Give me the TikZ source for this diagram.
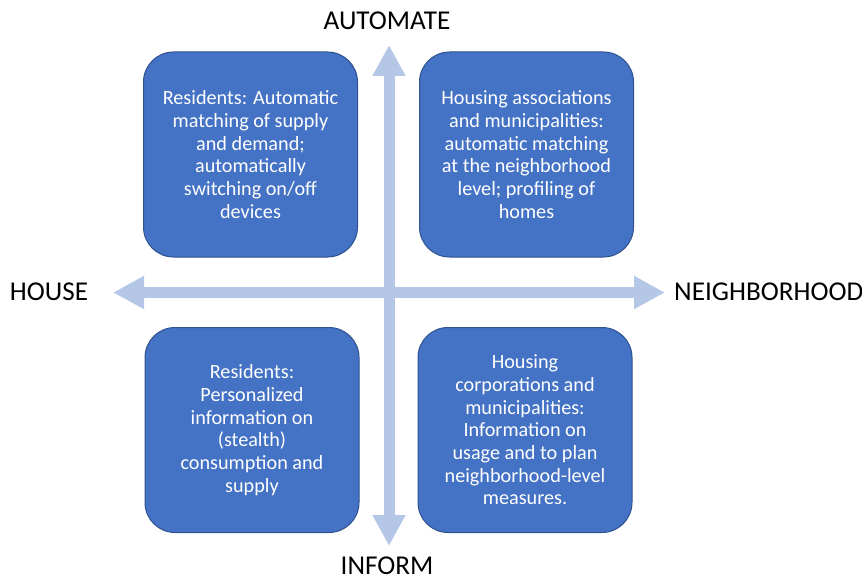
\documentclass[tikz,border=0pt]{standalone}
\usepackage{fontspec}
\setmainfont{Carlito}
\usetikzlibrary{arrows.meta}
\definecolor{boxfill}{HTML}{4472C4}
\definecolor{boxline}{HTML}{2F528F}
\definecolor{axiscol}{HTML}{B4C7E7}
\tikzset{
  quadbox/.style={draw=boxline, line width=1pt, fill=boxfill, rounded corners=30pt,
    minimum width=214pt, minimum height=205pt, text=white, align=center,
    font=\fontsize{20.2pt}{22.7pt}\selectfont, inner sep=0pt},
  axislabel/.style={font=\fontsize{27.2pt}{30pt}\selectfont, text=black, inner sep=0pt},
  axisarrow/.style={draw=axiscol, line width=11pt,
    {Triangle[width=31pt,length=31pt]}-{Triangle[width=31pt,length=31pt]}}
}
\begin{document}
\begin{tikzpicture}[x=1pt,y=-1pt]
\useasboundingbox (0,0) rectangle (862,580);
% axes
\coordinate (hl) at (113,292.5);
\coordinate (hr) at (665,292.5);
\coordinate (vt) at (389,45);
\coordinate (vb) at (389,546);
\draw[axisarrow] (hl) -- (hr);
\draw[axisarrow] (vt) -- (vb);
% boxes
\node[quadbox] (tl) at (250.5,154.5) {Residents: Automatic\\matching of supply\\and demand;\\automatically\\switching on/off\\devices};
\node[quadbox] (tr) at (526.5,154.5) {Housing associations\\and municipalities:\\automatic matching\\at the neighborhood\\level; profiling of\\homes};
\node[quadbox] (bl) at (252,430) {Residents:\\Personalized\\information on\\(stealth)\\consumption and\\supply};
\node[quadbox] (br) at (525,430) {Housing\\corporations and\\municipalities:\\Information on\\usage and to plan\\neighborhood-level\\measures.};
% labels
\node[axislabel, anchor=base] (auto) at (387,30) {AUTOMATE};
\node[axislabel, anchor=base] (inform) at (387,574.5) {INFORM};
\node[axislabel, anchor=base] (house) at (49,300) {HOUSE};
\node[axislabel, anchor=base west] (neigh) at (674,300) {NEIGHBORHOOD};
\end{tikzpicture}
\end{document}
